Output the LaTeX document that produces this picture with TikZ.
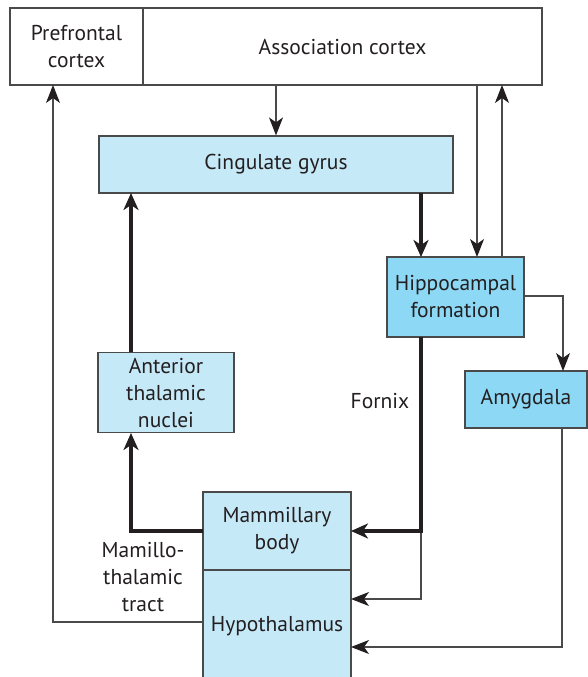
\documentclass[tikz,border=0pt]{standalone}
\usepackage{fontspec}
\setmainfont{PT Sans}
\usetikzlibrary{arrows.meta}
\definecolor{lightbox}{HTML}{C6E9F8}
\definecolor{darkbox}{HTML}{8DD8F5}
\definecolor{edge}{HTML}{4A4A4A}
\definecolor{ink}{HTML}{231F20}
\tikzset{
  box/.style={draw=edge, line width=1.2pt, rectangle, inner sep=0pt, align=center, text=ink,
    font=\fontsize{21.5}{27}\selectfont},
  thin/.style={draw=edge, line width=1.1pt, -{Stealth[length=18pt,width=14pt,inset=5pt,color=ink]}},
  thick/.style={draw=ink, line width=3.6pt, -{Stealth[length=17pt,width=15pt,inset=5pt]}},
  lab/.style={align=center, text=ink, font=\fontsize{21.5}{27}\selectfont, inner sep=0pt}
}
\begin{document}
\begin{tikzpicture}[x=1pt,y=-1pt]
\useasboundingbox (0,0) rectangle (588,677);
\fill[white] (0,0) rectangle (588,677);
% nodes
\node[box, minimum width=133pt, minimum height=77pt] (pre) at (76.5,46.5) {Prefrontal\\cortex};
\node[box, minimum width=399pt, minimum height=77pt] (asc) at (342.5,46.5) {Association cortex};
\node[box, fill=lightbox, minimum width=354pt, minimum height=57pt] (cin) at (276,164.5) {Cingulate gyrus};
\node[box, fill=darkbox, minimum width=137pt, minimum height=80pt] (hip) at (455.5,297) {Hippocampal\\formation};
\node[box, fill=darkbox, minimum width=122pt, minimum height=57pt] (amy) at (526,399.5) {Amygdala};
\node[box, fill=lightbox, minimum width=136pt, minimum height=80pt] (ant) at (166,392.5) {Anterior\\thalamic\\nuclei};
\node[box, fill=lightbox, minimum width=148pt, minimum height=112pt] (hyp) at (277,626) {Hypothalamus};
\node[box, fill=lightbox, minimum width=148pt, minimum height=78pt] (mam) at (277,531) {Mammillary\\body};
% labels
\node[lab] (fornix) at (380,401) {Fornix};
\node[lab] (mtt) at (143,577) {Mamillo-\\thalamic\\tract};
% helper coordinates
\coordinate (f1) at (421,531);
% connectors
\draw[thin] (276,85) -- (cin.north);
\draw[thin] (477,85) -- (477,257);
\draw[thin] (502,257) -- (502,85);
\draw[thin] (hip.east |- 0,296) -- (563,296) -- (563,371);
\draw[thin] (203,622) -- (53,622) -- (53,85);
\draw[thin] (421,531) -- (421,599) -- (351,599);
\draw[thin] (562,428) -- (562,647) -- (351,647);
\draw[thick] (421,193) -- (421,257);
\draw[thick] (421,337) -- (f1) -- (351,531);
\draw[thick] (203,531) -- (131,531) -- (131,433);
\draw[thick] (131,352) -- (131,193);
\end{tikzpicture}
\end{document}
